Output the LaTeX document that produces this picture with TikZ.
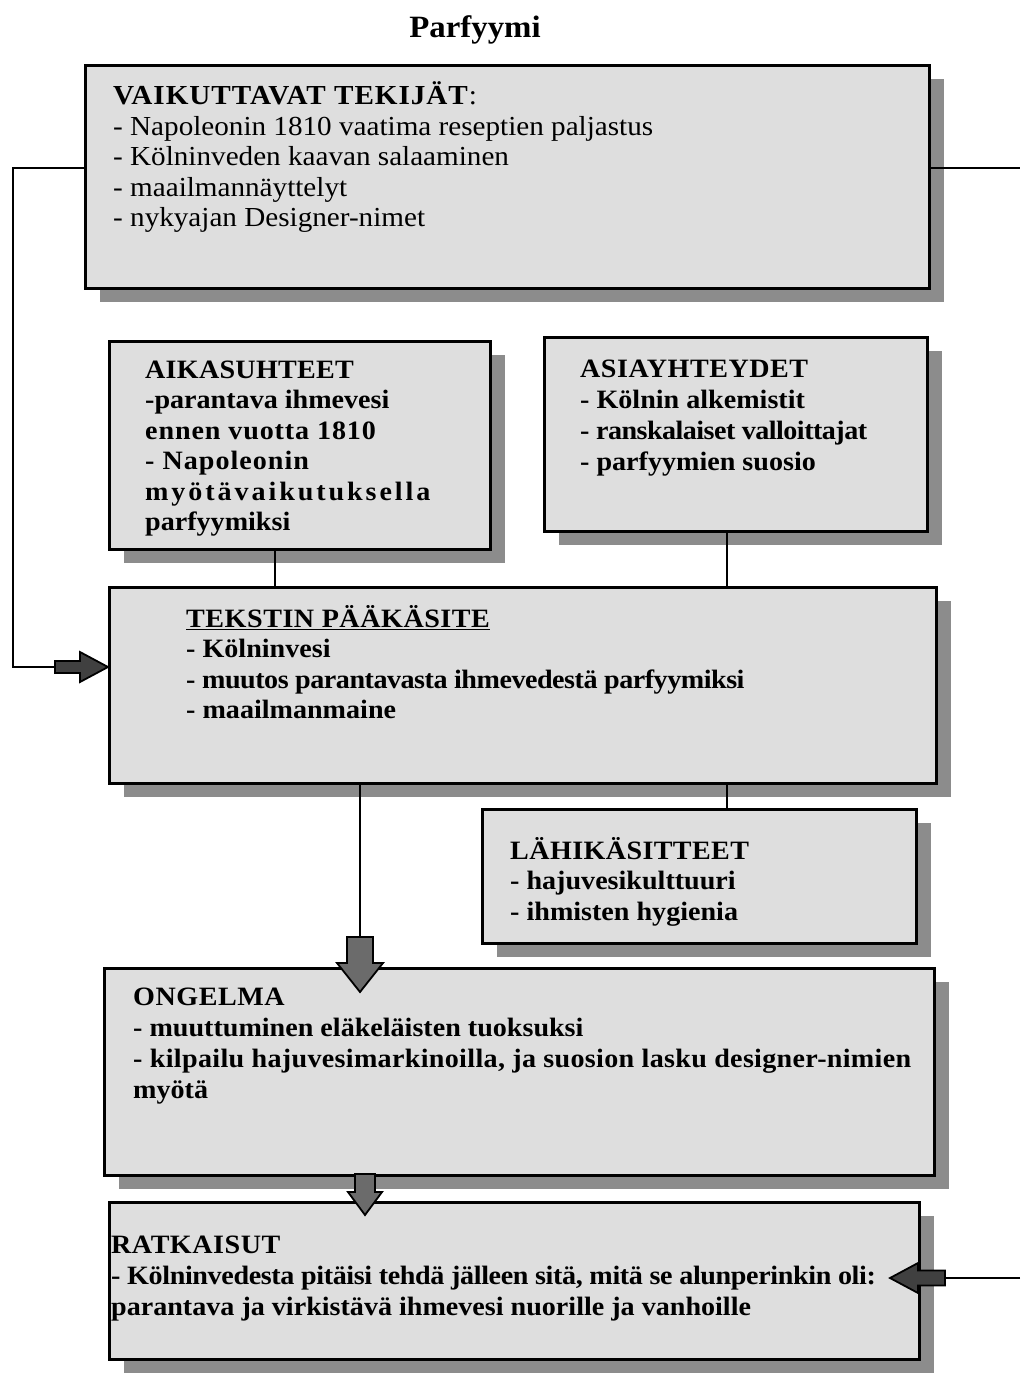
\documentclass[tikz,border=0pt]{standalone}
\usepackage{fontspec}
\setmainfont{Liberation Serif}[FakeStretch=1.06]
\usetikzlibrary{shadows,calc}
\definecolor{boxfill}{gray}{0.87}
\definecolor{shadowgray}{gray}{0.55}
\definecolor{arrowgray}{gray}{0.42}
\definecolor{darkarrow}{gray}{0.25}
\newcommand{\mystrut}{\rule{0pt}{1em}}
\newcommand{\ls}[2]{{\addfontfeature{LetterSpace=#1}#2}}
\begin{document}
\begin{tikzpicture}[x=1pt,y=-1pt,
  box/.style={draw=black, line width=2.8pt, fill=boxfill, anchor=north west, inner sep=0pt,
    drop shadow={shadow xshift=15pt, shadow yshift=-14pt, fill=shadowgray, opacity=1}},
  txt/.style={anchor=north west, align=left, inner sep=0pt},
  bfont/.style={font=\bfseries\fontsize{26.5}{#1}\selectfont},
  conn/.style={draw=black, line width=2.2pt},
  barrow/.style={draw=black, line width=1.8pt, fill=arrowgray, line join=miter}]
\useasboundingbox (0,0) rectangle (1020,1375);
\fill[white] (0,0) rectangle (1020,1375);

% title
\node[anchor=base, inner sep=0pt, font=\bfseries\fontsize{31}{36}\selectfont] (title) at (475,38) {Parfyymi};

% boxes
\node[box, minimum width=844pt, minimum height=223pt] (b1) at (84,64) {};
\node[box, minimum width=381pt, minimum height=208pt] (b2) at (108,340) {};
\node[box, minimum width=383pt, minimum height=194pt] (b3) at (543,336) {};
\node[box, minimum width=827pt, minimum height=196pt] (b4) at (108,586) {};
\node[box, minimum width=434pt, minimum height=134pt] (b5) at (481,808) {};
\node[box, minimum width=830pt, minimum height=207pt] (b6) at (103,967) {};
\node[box, minimum width=810pt, minimum height=157pt] (b7) at (108,1201) {};

% texts
\node[txt, font=\fontsize{27.5}{30.5}\selectfont] (t1) at (113,77)
 {\mystrut\textbf{\ls{3.5}{VAIKUTTAVAT TEKIJÄT}}:\\
  - Napoleonin 1810 vaatima reseptien paljastus\\
  - Kölninveden kaavan salaaminen\\
  - maailmannäyttelyt\\
  - nykyajan Designer-nimet};
\node[txt, bfont=30.5] (t2) at (145,351.5)
 {\mystrut \ls{1}{AIKASUHTEET}\\
  -parantava ihmevesi\\
  \ls{3.3}{ennen vuotta 1810}\\
  \ls{3.8}{- Napoleonin}\\
  \ls{11}{myötävaikutuksella}\\
  parfyymiksi};
\node[txt, bfont=31] (t3) at (580,350.5)
 {\mystrut \ls{2}{ASIAYHTEYDET}\\
  - Kölnin alkemistit\\
  \ls{-2}{- ranskalaiset valloittajat}\\
  - parfyymien suosio};
\node[txt, bfont=30.5] (t4) at (186,600.5)
 {\mystrut\underline{\ls{2}{TEKSTIN PÄÄKÄSITE}}\\
  - Kölninvesi\\
  \ls{-1.8}{- muutos parantavasta ihmevedestä parfyymiksi}\\
  - maailmanmaine};
\node[txt, bfont=30.5] (t5) at (510,832.5)
 {\mystrut \ls{1.5}{LÄHIKÄSITTEET}\\
  - hajuvesikulttuuri\\
  - ihmisten hygienia};
\node[txt, bfont=31] (t6) at (133,978.5)
 {\mystrut \ls{2}{ONGELMA}\\
  - muuttuminen eläkeläisten tuoksuksi\\
  \ls{1.2}{- kilpailu hajuvesimarkinoilla, ja suosion lasku designer-nimien}\\
  myötä};
\node[txt, bfont=31] (t7) at (111,1226.5)
 {\mystrut \ls{2}{RATKAISUT}\\
  \ls{-1.4}{- Kölninvedesta pitäisi tehdä jälleen sitä, mitä se alunperinkin oli:}\\
  parantava ja virkistävä ihmevesi nuorille ja vanhoille};

% simple connectors
\draw[conn] (b2.south -| 275,0) -- (b4.north -| 275,0);
\draw[conn] (b3.south -| 727,0) -- (b4.north -| 727,0);
\draw[conn] (b4.south -| 727,0) -- (b5.north -| 727,0);

% left feedback line with block arrow
\coordinate (la) at (55,667);
\draw[conn] (b1.west |- 0,168) -- (13,168) -- (13,667) -- (la);
\draw[barrow, fill=darkarrow] (la) ++(0,-6) -- ++(25,0) -- ++(0,-9) -- (b4.west |- 0,667) -- (80,682) -- (80,673) -- (55,673) -- cycle;

% right line to top box
\coordinate (rtop) at (1020,168);
\draw[conn] (b1.east |- rtop) -- (rtop);

% right line to solutions box with block arrow
\coordinate (rb) at (1020,1278);
\coordinate (rs) at (945,1278);
\draw[conn] (rb) -- (rs);
\draw[barrow, fill=darkarrow] (945,1270.5) -- (918,1270.5) -- (918,1263) -- (890,1278) -- (918,1293) -- (918,1285.5) -- (945,1285.5) -- cycle;

% big down arrow from main concept to problem
\coordinate (da) at (360,937);
\draw[conn] (b4.south -| da) -- (da);
\draw[barrow] (347,937) -- (373,937) -- (373,963) -- (383,963) -- (360,992) -- (337,963) -- (347,963) -- cycle;

% small down arrow from problem to solutions
\draw[barrow] (355,1174) -- (375,1174) -- (375,1192) -- (382,1192) -- (365,1215) -- (348,1192) -- (355,1192) -- cycle;
\end{tikzpicture}
\end{document}
